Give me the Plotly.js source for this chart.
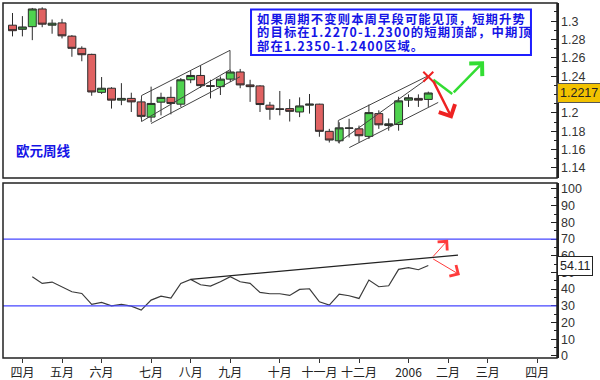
<!DOCTYPE html>
<html>
<head>
<meta charset="utf-8">
<script src="https://cdn.plot.ly/plotly-3.0.1.min.js"></script>
<style>html,body{margin:0;padding:0;background:#fff;}#chart{width:600px;height:380px;}</style>
</head>
<body>
<div id="chart"></div>
<script>
// ---- weekly EUR/USD candles ----
const openP  = [1.2956,1.2911,1.2940,1.3133,1.2956,1.2981,1.2837,1.2704,1.2638,1.2224,1.2269,1.2139,1.2158,1.2120,1.1954,1.2117,1.2169,1.2095,1.2361,1.2408,1.2297,1.2286,1.2368,1.2446,1.2305,1.2294,1.2084,1.2044,1.2047,1.2010,1.2084,1.2095,1.1799,1.1696,1.1832,1.1826,1.1744,1.1992,1.1862,1.1873,1.2139,1.2158,1.2147];
const highP  = [1.3089,1.3055,1.3144,1.3151,1.3018,1.3025,1.2848,1.2726,1.2645,1.2391,1.2280,1.2324,1.2220,1.2147,1.2286,1.2220,1.2286,1.2380,1.2460,1.2516,1.2361,1.2397,1.2472,1.2479,1.2361,1.2302,1.2120,1.2239,1.2150,1.2169,1.2206,1.2100,1.1826,1.1898,1.1936,1.1862,1.2091,1.2028,1.1939,1.2176,1.2202,1.2202,1.2232];
const lowP   = [1.2834,1.2834,1.2793,1.2934,1.2863,1.2812,1.2612,1.2563,1.2187,1.2206,1.2047,1.2084,1.2010,1.1939,1.1899,1.1973,1.1984,1.2065,1.2324,1.2272,1.2158,1.2195,1.2338,1.2269,1.2120,1.2010,1.1925,1.1973,1.1906,1.1954,1.1992,1.1740,1.1677,1.1666,1.1732,1.1677,1.1715,1.1826,1.1806,1.1806,1.2065,1.2065,1.2065];
const closeP = [1.2896,1.2937,1.3133,1.2967,1.2978,1.2840,1.2704,1.2634,1.2228,1.2269,1.2139,1.2158,1.2120,1.1962,1.2103,1.2169,1.2103,1.2361,1.2408,1.2297,1.2290,1.2368,1.2446,1.2305,1.2286,1.2091,1.2039,1.2039,1.2017,1.2076,1.2095,1.1799,1.1704,1.1837,1.1835,1.1751,1.2003,1.1870,1.1881,1.2131,1.2165,1.2139,1.2217];
// ---- RSI (lower panel) ----
const rsi = [null,null,47.4,43.4,44.2,41.4,38.4,37.4,30.8,32.0,30.0,30.8,29.8,27.4,33.4,35.8,34.6,43.4,45.8,42.6,41.8,44.4,47.4,44.4,43.4,38.0,37.2,37.2,36.2,39.8,40.2,32.4,30.4,37.0,36.0,34.4,45.4,41.4,42.0,51.8,52.8,51.6,54.11];
const rsiLevels = [70, 30];
// ---- axis ticks ----
const priceTicks = [1.14,1.16,1.18,1.20,1.22,1.24,1.26,1.28,1.30];
const rsiTicks = [0,10,20,30,40,50,60,70,80,90,100];
const monthTickIdx = [1,5,9,14,18,22,27,31,35,40,44,48,53];
const monthLabels  = ['四月','五月','六月','七月','八月','九月','十月','十一月','十二月','2006','二月','三月','四月'];
// ---- hand-drawn annotations (bar index, price) ----
const channelLines = [
  [13.03,1.2189,21.97,1.2682],[13.03,1.1906,21.97,1.2471],[13.99,1.1884,22.98,1.2394],
  [13.03,1.2189,13.03,1.1906],[21.97,1.2682,21.97,1.2471],
  [32.91,1.1917,42.0,1.2405],[32.91,1.1677,42.0,1.2380],[34.02,1.1622,43.0,1.2114],
  [32.91,1.1917,32.91,1.1677]
];
const crossPoint = [42.0, 1.2394];
const greenLeg = [42.51,1.2361,44.42,1.2206];
const greenArrow = [44.42,1.2206,47.63,1.2563];
const redArrow = [42.44,1.2361,44.42,1.1936];
const rsiTrend = [18,45.8,45,60.4];
const rsiArrows = [[42.34,58.6,44.0,69.5],[42.34,58.6,45.2,48.5]];
const noteLines = ['如果周期不变则本周早段可能见顶，短期升势','的目标在1.2270-1.2300的短期顶部，中期顶','部在1.2350-1.2400区域。'];
const panelTitle = '欧元周线';

const idx = openP.map((_, i) => i);
const lastClose = closeP[closeP.length-1];
const lastRsi = rsi[rsi.length-1];

const traces = [
  {type:'candlestick', x: idx, open: openP, high: highP, low: lowP, close: closeP,
   xaxis:'x', yaxis:'y', whiskerwidth:0,
   increasing:{line:{color:'#2b2b2b',width:1}, fillcolor:'#4fd24f'},
   decreasing:{line:{color:'#2b2b2b',width:1}, fillcolor:'#e06262'},
   hoverinfo:'skip'},
  {type:'scatter', mode:'lines', x: idx, y: rsi, xaxis:'x', yaxis:'y2',
   line:{color:'#3a3a3a', width:1.2}, hoverinfo:'skip'}
];

const shapes = [];
channelLines.forEach(c => shapes.push({type:'line', xref:'x', yref:'y', x0:c[0], y0:c[1], x1:c[2], y1:c[3], line:{color:'#444', width:1}}));
shapes.push({type:'line', xref:'x', yref:'y', x0:greenLeg[0], y0:greenLeg[1], x1:greenLeg[2], y1:greenLeg[3], line:{color:'#33dd33', width:2.5}});
shapes.push({type:'line', xref:'x', yref:'y', xsizemode:'pixel', ysizemode:'pixel', xanchor:crossPoint[0], yanchor:crossPoint[1], x0:-5, x1:5, y0:-5, y1:5, line:{color:'#ee2222', width:2}});
shapes.push({type:'line', xref:'x', yref:'y', xsizemode:'pixel', ysizemode:'pixel', xanchor:crossPoint[0], yanchor:crossPoint[1], x0:-5, x1:5, y0:5, y1:-5, line:{color:'#ee2222', width:2}});
rsiLevels.forEach(v => shapes.push({type:'line', xref:'paper', yref:'y2', x0:0, x1:1, y0:v, y1:v, line:{color:'#4646ff', width:1.2}}));
shapes.push({type:'line', xref:'x', yref:'y2', x0:rsiTrend[0], y0:rsiTrend[1], x1:rsiTrend[2], y1:rsiTrend[3], line:{color:'#222', width:1.2}});
shapes.push({type:'rect', xref:'paper', yref:'paper', x0:0.4477, x1:0.953, y0:0.8535, y1:0.9817, fillcolor:'#ffffff', line:{color:'#1e1eff', width:2}});
shapes.push({type:'rect', xref:'paper', yref:'paper', x0:0, x1:1, y0:0.507, y1:1, line:{color:'#222', width:1.5}});
shapes.push({type:'rect', xref:'paper', yref:'paper', x0:0, x1:1, y0:0, y1:0.493, line:{color:'#222', width:1.5}});

const annotations = [];
// one multi-line text: base font sets the tight line spacing, inner spans carry glyph size and spacing
const noteText = noteLines.map(t => '<span style="font-size:12.3px;letter-spacing:1.15px"><b>' + t + '</b></span>').join('<br>');
annotations.push({xref:'paper', yref:'paper', x:0.4567, y:0.9165, xanchor:'left', yanchor:'middle', align:'left', showarrow:false, borderpad:0,
  text: noteText, font:{family:'Noto Sans CJK SC', size:10.3, color:'#1414e6'}});
annotations.push({xref:'paper', yref:'paper', x:0.0199, y:0.586, xanchor:'left', yanchor:'middle', showarrow:false, text:'<b>'+panelTitle+'</b>', font:{family:'Noto Sans CJK SC', size:13.5, color:'#1414e6'}});
annotations.push({xref:'x', yref:'y', axref:'x', ayref:'y', x:greenArrow[2], y:greenArrow[3], ax:greenArrow[0], ay:greenArrow[1], text:'', showarrow:true, arrowhead:4, arrowsize:1.4, arrowwidth:2.5, arrowcolor:'#33dd33', standoff:0});
annotations.push({xref:'x', yref:'y', axref:'x', ayref:'y', x:redArrow[2], y:redArrow[3], ax:redArrow[0], ay:redArrow[1], text:'', showarrow:true, arrowhead:4, arrowsize:1.4, arrowwidth:2.5, arrowcolor:'#ee2222', standoff:0});
rsiArrows.forEach(a => annotations.push({xref:'x', yref:'y2', axref:'x', ayref:'y2', x:a[2], y:a[3], ax:a[0], ay:a[1], text:'', showarrow:true, arrowhead:4, arrowsize:2.5, arrowwidth:1, arrowcolor:'#ff3b3b', standoff:0}));
annotations.push({xref:'paper', yref:'y', x:1, y:lastClose, xanchor:'left', yanchor:'middle', showarrow:false, text:lastClose.toFixed(4), bgcolor:'#f2c200', bordercolor:'#555', borderwidth:1, borderpad:2, font:{family:'Liberation Sans', size:12.5, color:'#222'}});
annotations.push({xref:'paper', yref:'y2', x:1, y:lastRsi, xanchor:'left', yanchor:'middle', showarrow:false, text:lastRsi.toFixed(2), bgcolor:'#ffffff', bordercolor:'#222', borderwidth:1, borderpad:2, font:{family:'Liberation Sans', size:12.5, color:'#222'}});

// tick labels hidden behind the value tags are left blank
const fmt = v => String(parseFloat(v.toFixed(2)));
const priceText = priceTicks.map(v => Math.abs(v - lastClose) < 0.008 ? '' : fmt(v));
const rsiText = rsiTicks.map(v => String(v));
const priceMinor = [], rsiMinor = [];
for (let k = 0; k <= 19; k++) priceMinor.push(+(1.13 + k*0.01).toFixed(2));
for (let k = 0; k <= 20; k++) rsiMinor.push(k*5);

const tickFont = {family:'Liberation Sans', size:12.5, color:'#333'};
const layout = {
  width:600, height:380, margin:{l:3, r:43, t:3, b:22},
  paper_bgcolor:'#ffffff', plot_bgcolor:'#ffffff', showlegend:false,
  boxgap:0.2, boxgroupgap:0,
  xaxis:{range:[-0.96,55.0], anchor:'y2', tickmode:'array', tickvals:monthTickIdx, ticktext:monthLabels,
         ticks:'outside', ticklen:4, tickcolor:'#333', showgrid:false, zeroline:false, showline:false,
         rangeslider:{visible:false}, tickfont:{family:'Noto Sans CJK SC', size:12, color:'#222'}},
  yaxis:{domain:[0.507,1], anchor:'x', side:'right', range:[1.129,1.3198], tickmode:'array', tickvals:priceTicks, ticktext:priceText,
         ticks:'inside', ticklen:6, tickcolor:'#222', showline:true, linecolor:'#222', linewidth:1.5,
         showgrid:false, zeroline:false, tickfont:tickFont,
         minor:{tickmode:'array', tickvals:priceMinor, ticks:'inside', ticklen:3, tickcolor:'#222', showgrid:false}},
  yaxis2:{domain:[0,0.493], anchor:'x', side:'right', range:[-1.3,103.6], tickmode:'array', tickvals:rsiTicks, ticktext:rsiText,
          ticks:'inside', ticklen:6, tickcolor:'#222', showline:true, linecolor:'#222', linewidth:1.5,
          showgrid:false, zeroline:false, tickfont:tickFont,
          minor:{tickmode:'array', tickvals:rsiMinor, ticks:'inside', ticklen:3, tickcolor:'#222', showgrid:false}},
  shapes: shapes, annotations: annotations
};
Plotly.newPlot('chart', traces, layout, {displayModeBar:false, staticPlot:true});
</script>
</body>
</html>
